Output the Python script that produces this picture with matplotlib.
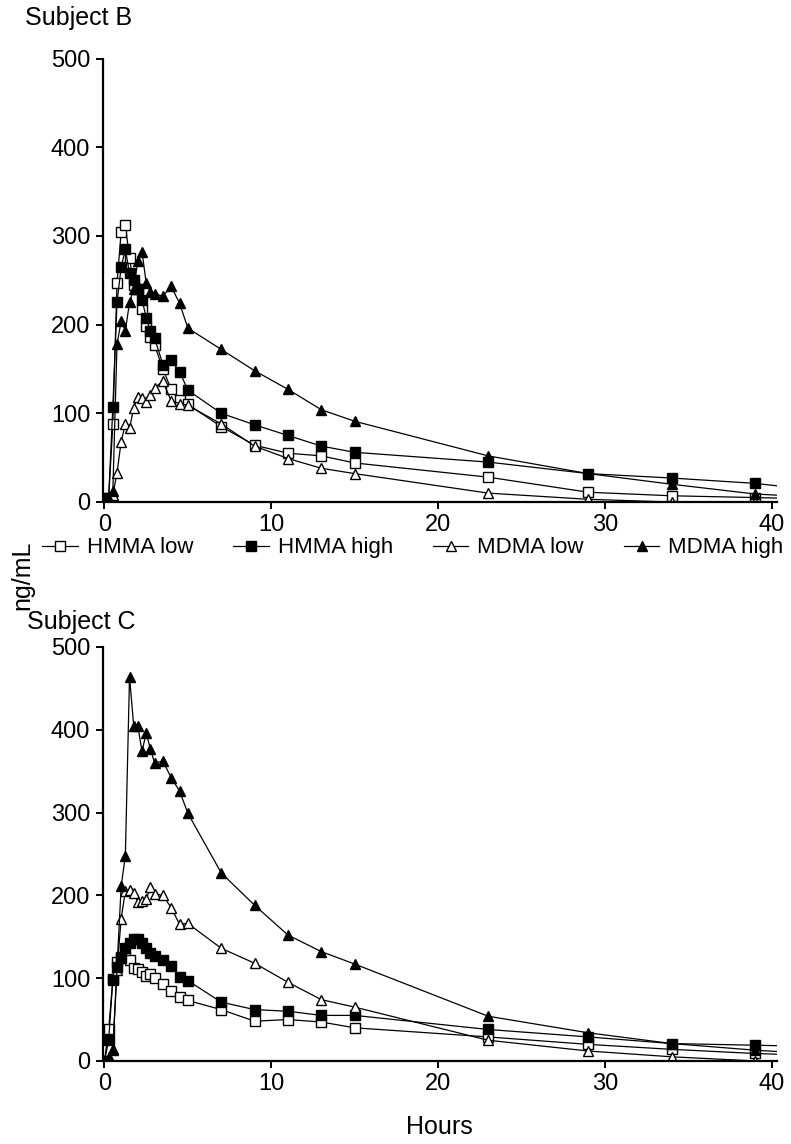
import numpy as np
import matplotlib.pyplot as plt

plt.rcParams['font.family'] = ['Liberation Sans', 'DejaVu Sans']

hours = [0, 0.25, 0.5, 0.75, 1, 1.25, 1.5, 1.75, 2, 2.25, 2.5, 2.75, 3, 3.5,
         4, 4.5, 5, 7, 9, 11, 13, 15, 23, 29, 34, 39, 48]

# Subject B
b_hmma_low = [0, 5, 88, 247, 305, 312, 275, 245, 240, 218, 198, 186, 177, 150,
              127, 115, 110, 85, 64, 55, 52, 44, 28, 11, 7, 5, 1]
b_hmma_high = [0, 5, 107, 225, 265, 285, 258, 250, 240, 228, 208, 193, 185, 155,
               160, 147, 126, 100, 87, 75, 63, 56, 45, 32, 27, 21, 2]
b_mdma_low = [0, 3, 8, 33, 68, 88, 83, 106, 118, 117, 113, 121, 129, 136,
              114, 111, 109, 88, 63, 49, 38, 32, 10, 3, 0, 0, 0]
b_mdma_high = [0, 3, 12, 178, 204, 193, 225, 240, 272, 282, 247, 237, 235, 232,
               243, 224, 196, 172, 148, 127, 104, 91, 52, 32, 20, 9, 0]

# Subject C
c_hmma_low = [0, 38, 98, 120, 125, 127, 122, 112, 111, 108, 102, 105, 100, 93,
              84, 77, 73, 62, 48, 50, 47, 40, 29, 20, 14, 9, 3]
c_hmma_high = [0, 25, 99, 113, 124, 136, 143, 147, 147, 143, 137, 130, 127, 122,
               115, 101, 97, 71, 62, 60, 55, 55, 38, 29, 21, 19, 15]
c_mdma_low = [0, 5, 15, 110, 172, 205, 207, 203, 192, 193, 195, 210, 202, 200,
              185, 165, 166, 136, 118, 95, 74, 65, 25, 12, 5, 0, 0]
c_mdma_high = [0, 3, 13, 113, 211, 248, 464, 405, 404, 374, 396, 377, 360, 362,
               342, 326, 299, 227, 188, 152, 132, 117, 54, 34, 21, 13, 2]

labels = ['HMMA low', 'HMMA high', 'MDMA low', 'MDMA high']
styles = [('s', 'white'), ('s', 'black'), ('^', 'white'), ('^', 'black')]

fig = plt.figure(figsize=(7.91, 11.44), dpi=100)
ax1 = fig.add_axes([0.130, 0.5612, 0.852, 0.3876])
ax2 = fig.add_axes([0.130, 0.0726, 0.852, 0.3619])


def draw(ax, series):
    handles = []
    for vals, (m, fc), lab in zip(series, styles, labels):
        h, = ax.plot(hours, vals, color='black', lw=0.9, marker=m, ms=6.5,
                     mfc=fc, mec='black', mew=1.0, label=lab)
        handles.append(h)
    ax.set_xlim(-0.1, 40.3)
    ax.set_ylim(0, 500)
    ax.set_xticks([0, 10, 20, 30, 40])
    ax.set_yticks([0, 100, 200, 300, 400, 500])
    for s in ['top', 'right']:
        ax.spines[s].set_visible(False)
    for s in ['left', 'bottom']:
        ax.spines[s].set_linewidth(1.6)
    ax.tick_params(direction='out', length=5, width=1.4, labelsize=17, pad=4)
    return handles


hs = draw(ax1, [b_hmma_low, b_hmma_high, b_mdma_low, b_mdma_high])
draw(ax2, [c_hmma_low, c_hmma_high, c_mdma_low, c_mdma_high])

fig.text(0.032, 0.984, 'Subject B', fontsize=18, va='center', ha='left')
fig.text(0.034, 0.456, 'Subject C', fontsize=18, va='center', ha='left')
fig.text(0.028, 0.497, 'ng/mL', fontsize=18, rotation=90, va='center', ha='center')
fig.text(0.556, 0.015, 'Hours', fontsize=18, va='center', ha='center')

fig.legend(handles=hs, loc='center', bbox_to_anchor=(0.522, 0.521), ncol=4,
           frameon=False, fontsize=16, handlelength=1.6, handletextpad=0.4,
           columnspacing=1.8, borderaxespad=0)

fig.savefig('out.png', dpi=100)
